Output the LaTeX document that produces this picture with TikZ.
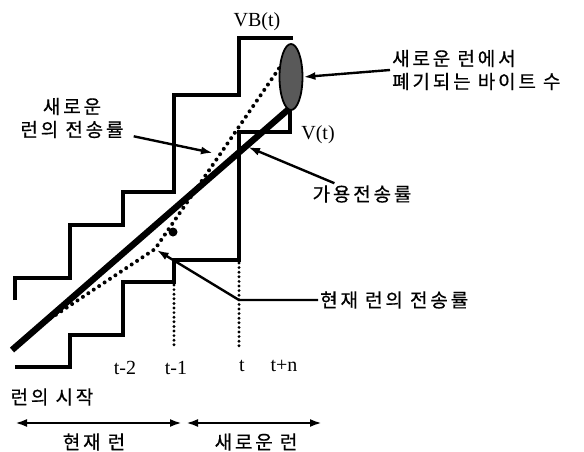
\documentclass[tikz,border=0pt]{standalone}
\usepackage{fontspec}
\setmainfont{Liberation Serif}
\newfontfamily\krfont[LetterSpace=15,FakeBold=0.6]{Noto Sans CJK KR}
\usetikzlibrary{arrows.meta,positioning,shapes.geometric}

\begin{document}
\begin{tikzpicture}[
  x=1pt, y=-1pt,
  stair/.style={line width=4.4pt},
  rateline/.style={line width=6.4pt},
  newrate/.style={line width=4pt, line cap=round, dash pattern=on 0pt off 6.5pt},
  tickline/.style={line width=3.2pt, line cap=round, dash pattern=on 0pt off 4.6pt},
  drop/.style={
    ellipse,
    draw,
    line width=1.8pt,
    fill=black!65,
    minimum width=23pt,
    minimum height=66pt,
    inner sep=0pt
  },
  arrow/.style={-{Latex[length=12pt,width=8pt]},line width=2.4pt},
  span/.style={{Latex[length=12pt,width=8pt]}-{Latex[length=12pt,width=8pt]},line width=2.4pt},
  kr/.style={font=\krfont\fontsize{19}{23}\selectfont, inner sep=2pt},
  lbl/.style={font=\fontsize{20}{22}\selectfont, inner sep=1pt}
]
  \useasboundingbox (0,0) rectangle (584,452);

  \draw[stair] (15,300) |- (70,278) |- (123,225) |- (174,192) |- (239,95) |- (293,38);
  \draw[stair] (15,367) -| (70,335) -| (123,282) -| (174,260) -| (239,132) -| (290,108);

  \coordinate (vstart) at (12,350);
  \coordinate (vend) at (290,108);
  \draw[rateline] (vstart) -- (vend);

  \coordinate (knee) at (155,249);
  \draw[newrate] (45,322) -- (knee) -- (280,67);

  \coordinate (t1top) at (174,285);
  \coordinate (t1bot) at (174,347);
  \coordinate (ttop) at (239,263);
  \coordinate (tbot) at (239,347);
  \draw[tickline] (t1top) -- (t1bot);
  \draw[tickline] (ttop) -- (tbot);

  \fill (173,232) circle (4.5pt);

  \node[drop] (drop) at (291,77) {};

  \node[lbl] (vb) at (257,22) {VB(t)};
  \node[lbl] (v) at (318,135) {V(t)};
  \node[kr, align=left, anchor=west] (discard) at (390,70) {새로운 런에서\\폐기되는 바이트 수};
  \node[kr, align=center] (newlbl) at (72,118) {새로운\\런의 전송률};
  \node[kr] (avail) at (362,194) {가용전송률};
  \node[kr, anchor=west] (curlbl) at (318,300) {현재 런의 전송률};

  \node[lbl] (tm2) at (125,368) {t-2};
  \node[lbl] (tm1) at (176,368) {t-1};
  \node[lbl] (t) at (242,366) {t};
  \node[lbl] (tn) at (284,366) {t+n};

  \node[kr] (start) at (52,397) {런의 시작};

  \coordinate (cur0) at (15,423);
  \coordinate (cur1) at (182,423);
  \coordinate (new0) at (186,423);
  \coordinate (new1) at (322,423);
  \draw[span] (cur0) -- (cur1);
  \draw[span] (new0) -- (new1);
  \node[kr] (curlbl2) at (94,442) {현재 런};
  \node[kr] (newlbl2) at (256,442) {새로운 런};

  \coordinate (availtip) at (248,147);
  \coordinate (newtip) at (213,153);
  \draw[arrow] (discard.west) -- (drop.east);
  \draw[arrow] ([xshift=24pt]avail.north west) -- (availtip);
  \draw[arrow] ([xshift=8pt,yshift=4pt]newlbl.south east) -- (newtip);
  \draw[arrow, shorten >=2pt] (curlbl.west) -- (curlbl.west -| tbot) -- (knee);
\end{tikzpicture}
\end{document}
